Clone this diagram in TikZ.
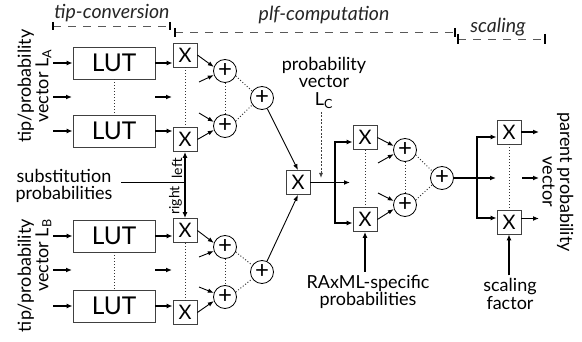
\documentclass[tikz,border=0pt]{standalone}
\usepackage{fontspec}
\setmainfont{Lato}
\usetikzlibrary{arrows.meta}
\begin{document}
\begin{tikzpicture}[x=1pt,y=-1pt,
  txt/.style={inner sep=0pt, font=\fontsize{18}{17.5}\selectfont},
  smalltxt/.style={inner sep=0pt, font=\fontsize{14}{15}\selectfont},
  brk/.style={inner sep=0pt, font=\fontsize{19.5}{20}\selectfont\itshape, text=black!85},
  lut/.style={draw=black!75, line width=0.8pt, minimum width=82pt, minimum height=32pt, inner sep=0pt, font=\fontsize{24.5}{26}\selectfont},
  mul/.style={draw=black!75, line width=0.8pt, minimum width=24pt, minimum height=24pt, inner sep=0pt, font=\fontsize{20}{20}\selectfont},
  add/.style={circle, draw=black, line width=0.8pt, minimum size=23pt, inner sep=0pt, font=\fontsize{24}{24}\selectfont},
  thk/.style={line width=1.8pt, -{Latex[length=6pt,width=5pt]}},
  thkline/.style={line width=1.8pt},
  thn/.style={line width=0.9pt, -{Latex[length=6pt,width=4.5pt]}},
  dots/.style={line width=1pt, dash pattern=on 1pt off 2pt, black!80},
  dsh/.style={line width=0.9pt, dash pattern=on 2pt off 1.5pt, black!75, -{Latex[length=5pt,width=4pt]}},
  brkline/.style={line width=0.9pt, dash pattern=on 8pt off 7pt, black!65},
  tick/.style={line width=1.2pt, black}
]
\useasboundingbox (0,0) rectangle (582,342);

% ---------- top brackets ----------
\coordinate (t1a) at (53,26); \coordinate (t1b) at (170,26);
\draw[brkline] (t1a) -- (t1b);
\draw[tick] (53,22) -- (53,30); \draw[tick] (170,22) -- (170,30);
\node[brk] (tiplab) at (112,13) {tip-conversion};
\coordinate (t2a) at (175,32); \coordinate (t2b) at (455,32);
\draw[brkline] (t2a) -- (t2b);
\draw[tick] (175,28) -- (175,37); \draw[tick] (455,28) -- (455,37);
\node[brk] (plflab) at (324,15) {plf-computation};
\coordinate (t3a) at (458,39); \coordinate (t3b) at (545,39);
\draw[brkline] (t3a) -- (t3b);
\draw[tick] (458,34) -- (458,44); \draw[tick] (545,34) -- (545,44);
\node[brk] (sclab) at (498,27) {scaling};

% ---------- section A ----------
\node[txt, rotate=90, align=center] (labA) at (34.5,86) {tip/probability\\vector L\textsubscript{A}};
\node[lut] (LA1) at (114,63) {LUT};
\node[lut] (LA2) at (114,131) {LUT};
\node[mul] (XA1) at (185,55) {X};
\node[mul] (XA2) at (185,139.5) {X};
\node[add] (PA1) at (225,71) {+};
\node[add] (PA2) at (225,126) {+};
\node[add] (PA) at (262,98) {+};

\coordinate (iA1) at (53,63); \coordinate (iA2) at (53,131);
\coordinate (iAm) at (53,97); \coordinate (iAme) at (72,97);
\coordinate (oAm) at (155,97); \coordinate (oAme) at (172,97);
\draw[thk] (iA1) -- (LA1.west);
\draw[thk] (iA2) -- (LA2.west);
\draw[thk] (iAm) -- (iAme);
\draw[thk] (oAm) -- (oAme);
\draw[thk] (LA1.east) -- (LA1.east -| XA1.west);
\draw[thk] (LA2.east) -- (LA2.east -| XA2.west);
\draw[thn] (XA1.east) -- (PA1.160);
\coordinate (eA1) at (199,82); \draw[thn] (eA1) -- (PA1.200);
\coordinate (eA2) at (199,113); \draw[thn] (eA2) -- (PA2.160);
\draw[thn] (XA2.east) -- (PA2.200);
\draw[dots] (LA1.south) -- (LA2.north);
\draw[dots] (XA1.south) -- (XA2.north);
\draw[dots] (PA1.south) -- (PA2.north);
\draw[dots] (PA1.-25) -- (PA.145);
\draw[dots] (PA2.25) -- (PA.215);

% ---------- section B ----------
\node[txt, rotate=90, align=right, anchor=east] (labB) at (34.5,219) {tip/probability\\vector L\textsubscript{B}};
\node[lut] (LB1) at (114,236) {LUT};
\node[lut] (LB2) at (114,306) {LUT};
\node[mul] (XB1) at (185,230.5) {X};
\node[mul] (XB2) at (185,312.5) {X};
\node[add] (PB1) at (225,247) {+};
\node[add] (PB2) at (225,297) {+};
\node[add] (PB) at (262,272) {+};

\coordinate (iB1) at (53,236); \coordinate (iB2) at (53,306);
\coordinate (iBm) at (53,270); \coordinate (iBme) at (72,270);
\coordinate (oBm) at (155,270); \coordinate (oBme) at (172,270);
\draw[thk] (iB1) -- (LB1.west);
\draw[thk] (iB2) -- (LB2.west);
\draw[thk] (iBm) -- (iBme);
\draw[thk] (oBm) -- (oBme);
\draw[thk] (LB1.east) -- (LB1.east -| XB1.west);
\draw[thk] (LB2.east) -- (LB2.east -| XB2.west);
\draw[thn] (XB1.east) -- (PB1.160);
\coordinate (eB1) at (199,257); \draw[thn] (eB1) -- (PB1.200);
\coordinate (eB2) at (199,287); \draw[thn] (eB2) -- (PB2.160);
\draw[thn] (XB2.east) -- (PB2.200);
\draw[dots] (LB1.south) -- (LB2.north);
\draw[dots] (XB1.south) -- (XB2.north);
\draw[dots] (PB1.south) -- (PB2.north);
\draw[dots] (PB1.-25) -- (PB.145);
\draw[dots] (PB2.25) -- (PB.215);

% ---------- substitution bus ----------
\node[txt, align=center] (subst) at (64,186) {substitution\\probabilities};
\coordinate (jL) at (185,182.5);
\coordinate (sL) at (121,182.5);
\draw[thkline] (sL) -- (jL);
\draw[thk] (jL) -- (XA2.south);
\draw[thk] (jL) -- (XB1.north);
\node[smalltxt, rotate=90] (leftlab) at (177,168.5) {left};
\node[smalltxt, rotate=90] (rightlab) at (175.5,200.5) {right};

% ---------- center multiplier ----------
\node[mul] (XC) at (298,182.5) {X};
\draw[thn] (PA) -- (XC.north);
\draw[thn] (PB) -- (XC.south);
\node[txt, align=center] (LC) at (324,83) {probability\\vector\\L\textsubscript{C}};
\coordinate (LCe) at (321,178);
\draw[dsh] (LC.south -| LCe) ++(0,3) -- (LCe);
\coordinate (jC) at (335,182.5);
\coordinate (mC) at (350,182.5);
\draw[thkline] (XC.east) -- (jC);
\draw[thk] (jC) -- (mC);

% ---------- section D ----------
\node[mul] (XD1) at (365,137.5) {X};
\node[mul] (XD2) at (365,219.5) {X};
\node[add] (PD1) at (405,150) {+};
\node[add] (PD2) at (405,205) {+};
\node[add] (PD) at (442,178) {+};
\draw[thk] (jC) |- ([yshift=-4.5pt]XD1.west);
\draw[thk] (jC) |- ([yshift=-3.5pt]XD2.west);
\draw[thn] (XD1.east) -- (PD1.160);
\coordinate (eD1) at (378,163); \draw[thn] (eD1) -- (PD1.200);
\coordinate (eD2) at (378,193); \draw[thn] (eD2) -- (PD2.160);
\draw[thn] (XD2.east) -- (PD2.200);
\draw[dots] (XD1.south) -- (XD2.north);
\draw[dots] (PD1.south) -- (PD2.north);
\draw[dots] (PD1.-25) -- (PD.145);
\draw[dots] (PD2.25) -- (PD.215);
\node[txt, align=center] (raxml) at (368,292) {RAxML-specific\\probabilities};
\draw[thk] (raxml.north -| XD2.south) ++(0,-3) -- (XD2.south);

% ---------- scaling ----------
\coordinate (jD) at (477,178);
\coordinate (mD) at (496,178);
\draw[thkline] (PD.east) -- (jD);
\draw[thk] (jD) -- (mD);
\node[mul] (XE1) at (509,132) {X};
\node[mul] (XE2) at (509,222) {X};
\draw[thk] (jD) |- ([yshift=-5pt]XE1.west);
\draw[thk] (jD) |- ([yshift=4pt]XE2.west);
\draw[dots] (XE1.south) -- (XE2.north);
\coordinate (oE1) at (539,132);
\coordinate (oEm) at (522,178); \coordinate (oEme) at (539,178);
\coordinate (oE2) at (539,218.5);
\draw[thk] (XE1.east) -- (oE1);
\draw[thk] (oEm) -- (oEme);
\draw[thk] ([yshift=3.5pt]XE2.east) -- (oE2);
\node[txt, align=center] (scf) at (510,294) {scaling\\factor};
\draw[thk] (scf.north -| XE2.south) ++(0,-3) -- (XE2.south);
\node[txt, rotate=-90, align=center] (parent) at (558,182) {parent probability\\vector};
\end{tikzpicture}
\end{document}
